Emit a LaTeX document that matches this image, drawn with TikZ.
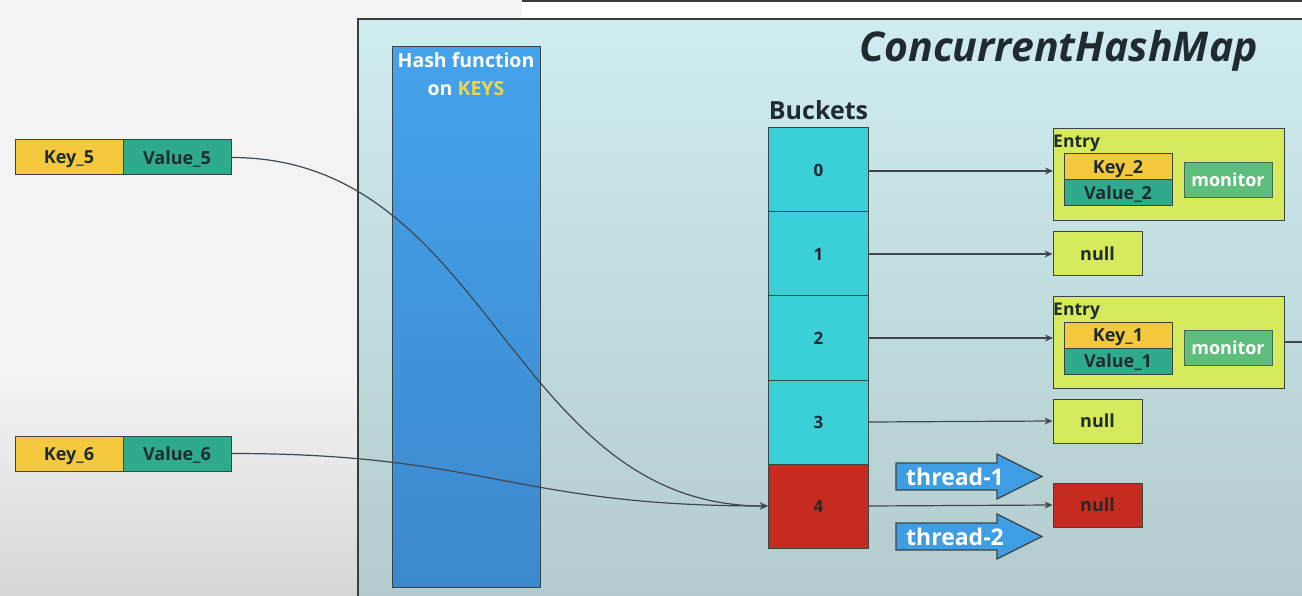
\documentclass[tikz,border=0pt]{standalone}
\usepackage{fontspec}
\setmainfont{Open Sans}
\usetikzlibrary{arrows.meta}
\definecolor{bgtop}{HTML}{F3F3F3}
\definecolor{bgbot}{HTML}{D7D7D7}
\definecolor{maptop}{HTML}{CFECEF}
\definecolor{mapbot}{HTML}{B2CBCC}
\definecolor{frame}{HTML}{3A3D40}
\definecolor{hashtop}{HTML}{45A3EB}
\definecolor{hashbot}{HTML}{3C88CD}
\definecolor{keyc}{HTML}{F5C93E}
\definecolor{valc}{HTML}{2FAB8C}
\definecolor{bucketc}{HTML}{3BCFD7}
\definecolor{redc}{HTML}{C72A1F}
\definecolor{entryc}{HTML}{D7E95C}
\definecolor{monc}{HTML}{5DBE7C}
\definecolor{threadc}{HTML}{3F9DE3}
\definecolor{txtdark}{HTML}{1F2B2E}
\definecolor{connc}{HTML}{3F4850}
\definecolor{keysy}{HTML}{EED54A}
\definecolor{edgec}{HTML}{3A4444}
\tikzset{
  cell/.style={draw=edgec, line width=1pt, inner sep=0pt, text=txtdark, text depth=0pt,
    font=\bfseries\fontsize{18}{20}\selectfont},
  keybox/.style={cell, fill=keyc, minimum width=108pt, minimum height=35pt},
  valbox/.style={cell, fill=valc, minimum width=108pt, minimum height=35pt},
  bucketbox/.style={cell, fill=bucketc, minimum width=100pt, minimum height=84pt,
    font=\bfseries\fontsize{17}{20}\selectfont},
  entrybox/.style={draw=edgec, line width=0.9pt, fill=entryc, anchor=north west,
    minimum width=231pt, minimum height=92pt, inner sep=0pt},
  entrylabel/.style={anchor=base west, text=txtdark, inner sep=0pt,
    font=\bfseries\fontsize{17.5}{20}\selectfont},
  ekey/.style={cell, fill=keyc, minimum width=108pt, minimum height=26pt},
  evalue/.style={cell, fill=valc, minimum width=108pt, minimum height=26pt},
  monbox/.style={cell, draw=edgec!70!monc, fill=monc, text=white, minimum width=88pt, minimum height=35pt},
  nullbox/.style={cell, fill=entryc, minimum width=89pt, minimum height=44pt},
  conn/.style={draw=connc, line width=1.2pt, -{Stealth[length=8pt,width=7pt]}},
  threadarrow/.style={draw=edgec, line width=1.2pt, fill=threadc, line join=miter},
  threadtxt/.style={text=white, font=\bfseries\fontsize{23}{25}\selectfont, inner sep=0pt, anchor=base},
}
\begin{document}
\begin{tikzpicture}[x=1pt,y=-1pt]
\useasboundingbox (0,0) rectangle (1302,596);
% background
\fill[bgtop] (0,0) rectangle (1302,380);
\shade[top color=bgtop, bottom color=bgbot] (0,379) rectangle (1302,596);
\fill[white] (522,2) rectangle (1302,18);
\draw[frame, line width=2.5pt] (522,1) -- (1302,1);
% main container
\node[draw=frame, line width=2pt, top color=maptop, middle color=maptop, bottom color=mapbot, anchor=north west,
  minimum width=960pt, minimum height=600pt, inner sep=0pt] (map) at (357,18) {};
\node[anchor=base east, text=txtdark, inner sep=0pt,
  font=\bfseries\itshape\fontsize{41}{44}\selectfont] (title) at (1258,62) {ConcurrentHashMap};
% hash function column
\node[draw=edgec, line width=1pt, top color=hashtop, middle color=hashtop, bottom color=hashbot, anchor=north west,
  minimum width=148pt, minimum height=541pt, inner sep=0pt] (hash) at (392,46) {};
\node[anchor=base, text=white, inner sep=0pt, font=\bfseries\fontsize{19.5}{22}\selectfont]
  (h1) at (466,68) {Hash function};
\node[anchor=base, text=white, inner sep=0pt, font=\bfseries\fontsize{19.5}{22}\selectfont]
  (h2) at (466,96) {on \textcolor{keysy}{KEYS}};
% key-value inputs
\node[keybox] (k5) at (69,157.5) {Key\_5};
\node[valbox] (v5) at (177,157.5) {Value\_5};
\node[keybox] (k6) at (69,453.5) {Key\_6};
\node[valbox] (v6) at (177,453.5) {Value\_6};
% buckets
\node[anchor=base, text=txtdark, inner sep=0pt, font=\bfseries\fontsize{25}{28}\selectfont]
  (blabel) at (818.5,120) {Buckets};
\node[bucketbox] (b0) at (818.5,170) {0};
\node[bucketbox] (b1) at (818.5,254) {1};
\node[bucketbox] (b2) at (818.5,338) {2};
\node[bucketbox] (b3) at (818.5,422) {3};
\node[bucketbox, fill=redc] (b4) at (818.5,506) {4};
% entry 0
\node[entrybox] (e0) at (1053,128) {};
\node[entrylabel] (e0l) at (1053,148) {Entry};
\node[ekey] (k2) at (1118,167) {Key\_2};
\node[evalue] (v2) at (1118,193) {Value\_2};
\node[monbox] (m0) at (1228,180) {monitor};
% null 1
\node[nullbox] (n1) at (1097.5,254) {null};
% entry 2
\node[entrybox] (e2) at (1053,296) {};
\node[entrylabel] (e2l) at (1053,316) {Entry};
\node[ekey] (k1) at (1118,335.5) {Key\_1};
\node[evalue] (v1) at (1118,361) {Value\_1};
\node[monbox] (m2) at (1228,347.5) {monitor};
% null 3, null 4
\node[nullbox] (n3) at (1097.5,421) {null};
\node[nullbox, fill=redc] (n4) at (1097.5,505) {null};
% connectors
\draw[conn] (b0.east |- 0,171) -- (e0.west |- 0,171);
\draw[conn] (b1.east) -- (n1.west);
\draw[conn] (b2.east) -- (e2.west |- b2.east);
\draw[conn] (b3.east) -- (n3.west);
\draw[conn] (b4.east) -- (n4.west);
\coordinate (off) at (1302,342);
\draw[draw=connc, line width=1.2pt] (e2.east |- off) -- (off);
\draw[conn] (v5.east) .. controls +(259,0) and +(-259,0) .. (b4.west);
\draw[conn] (v6.east) .. controls +(255,0) and +(-255,0) .. (b4.west);
% thread arrows
\draw[threadarrow] (896,463) -- (997,463) -- (997,454) -- (1042,476.5) -- (997,499) -- (997,490) -- (896,490) -- cycle;
\node[threadtxt] (t1) at (955,485) {thread-1};
\draw[threadarrow] (896,523) -- (997,523) -- (997,514) -- (1042,536.5) -- (997,559) -- (997,550) -- (896,550) -- cycle;
\node[threadtxt] (t2) at (955,545) {thread-2};
\end{tikzpicture}
\end{document}
